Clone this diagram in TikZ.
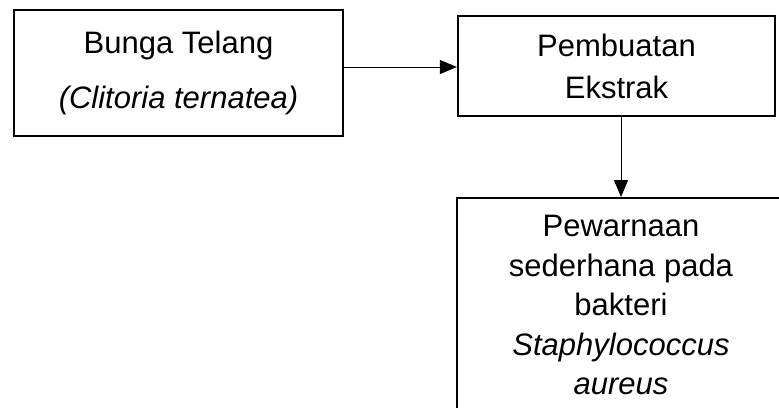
\documentclass[tikz,border=0pt]{standalone}
\usepackage{fontspec}
\setmainfont{Liberation Sans}
\usetikzlibrary{arrows.meta}
\begin{document}
\begin{tikzpicture}[x=0.5pt, y=-0.5pt, >={Triangle[length=8.5pt,width=7pt]},
    box/.style={draw, line width=1.1pt, align=center, inner sep=0pt},
    flow/.style={->, line width=0.5pt}]
    \useasboundingbox (0,0) rectangle (779,407);
    \clip (0,0) rectangle (779,407);

    \node[box, minimum width=164.5pt, minimum height=63pt, font=\fontsize{15.5}{27.5}\selectfont] (bunga) at (178.5,73) {Bunga Telang\\\textit{(Clitoria ternatea)}};
    \node[box, minimum width=158.5pt, minimum height=50pt, font=\fontsize{15.5}{21}\selectfont] (ekstrak) at (616.5,66) {Pembuatan\\Ekstrak};
    \node[box, anchor=north, minimum width=164pt, minimum height=107pt, font=\fontsize{15.5}{19.75}\selectfont] (pewarnaan) at (621,197) {Pewarnaan\\sederhana pada\\bakteri\\\textit{Staphylococcus}\\\textit{aureus}};

    \draw[flow] (bunga.east |- 0,67) -- (ekstrak.west |- 0,67);
    \draw[flow] (ekstrak.south -| pewarnaan.north) -- (pewarnaan.north);
\end{tikzpicture}
\end{document}
